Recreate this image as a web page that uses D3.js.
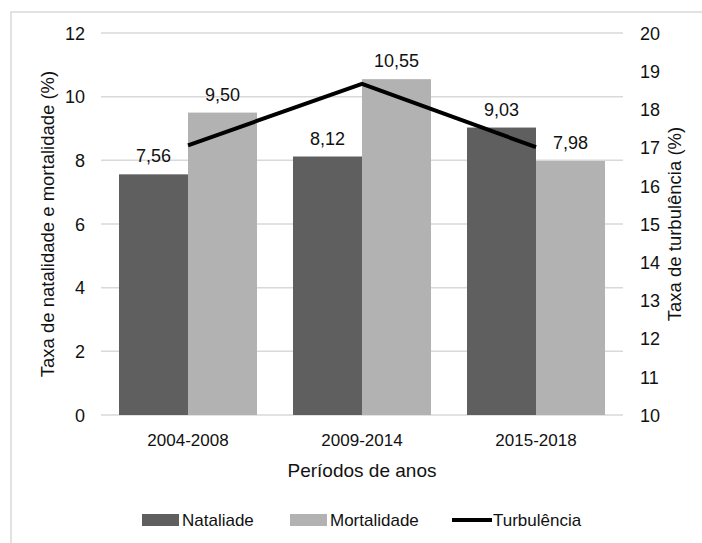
<!DOCTYPE html>
<html>
<head>
<meta charset="utf-8">
<script src="https://cdn.jsdelivr.net/npm/d3@7"></script>
<style>
	body { margin: 0; background: #fff; }
	svg text { font-family: "Liberation Sans", Arial, sans-serif; fill: #111; }
</style>
</head>
<body>
<div id="chart"></div>
<script>
var periods = ["2004-2008", "2009-2014", "2015-2018"];
var natalidade = [7.56, 8.12, 9.03];
var mortalidade = [9.50, 10.55, 7.98];
var turbulencia = [17.06, 18.67, 17.01];
var leftTicks = [0, 2, 4, 6, 8, 10, 12];
var rightTicks = [10, 11, 12, 13, 14, 15, 16, 17, 18, 19, 20];

var W = 702, H = 543;
var plot = { left: 101, right: 623, top: 33, bottom: 415 };

var svg = d3.select("#chart")
	.append("svg")
		.attr("width", W)
		.attr("height", H);

// outer frame, runs off the right and bottom edge like the original
svg.append("rect")
	.attr("x", 11).attr("y", 12)
	.attr("width", W).attr("height", H)
	.attr("fill", "none")
	.attr("stroke", "#d9d9d9")
	.attr("stroke-width", 1.5);

var x0 = d3.scaleBand().domain(periods).range([plot.left, plot.right]).padding(0);
var x1 = d3.scaleBand().domain(["nat", "mort"]).range([18, x0.bandwidth() - 18]).padding(0);
var yL = d3.scaleLinear().domain([0, 12]).range([plot.bottom, plot.top]);
var yR = d3.scaleLinear().domain([10, 20]).range([plot.bottom, plot.top]);

// gridlines
svg.append("g")
	.selectAll("line")
	.data(leftTicks)
	.join("line")
		.attr("x1", plot.left).attr("x2", plot.right)
		.attr("y1", function(d) { return yL(d); })
		.attr("y2", function(d) { return yL(d); })
		.attr("stroke", "#d9d9d9")
		.attr("stroke-width", 1.5);

// left axis
var axL = svg.append("g")
	.attr("transform", "translate(" + (plot.left - 16) + ",0)")
	.call(d3.axisLeft(yL).tickValues(leftTicks).tickSize(0).tickPadding(0));
axL.select(".domain").remove();
axL.selectAll("text").attr("font-size", 18).attr("dy", "0.35em");

// right axis
var axR = svg.append("g")
	.attr("transform", "translate(" + (plot.right + 17) + ",0)")
	.call(d3.axisRight(yR).tickValues(rightTicks).tickSize(0).tickPadding(0));
axR.select(".domain").remove();
axR.selectAll("text").attr("font-size", 18).attr("dy", "0.35em");

var series = [
	{ key: "nat", values: natalidade, color: "#5f5f5f" },
	{ key: "mort", values: mortalidade, color: "#b2b2b2" }
];

series.forEach(function(s) {
	var g = svg.append("g");
	g.selectAll("rect")
		.data(s.values)
		.join("rect")
			.attr("x", function(d, i) { return x0(periods[i]) + x1(s.key); })
			.attr("y", function(d) { return yL(d); })
			.attr("width", x1.bandwidth())
			.attr("height", function(d) { return yL(0) - yL(d); })
			.attr("fill", s.color);
	g.selectAll("text")
		.data(s.values)
		.join("text")
			.attr("x", function(d, i) { return x0(periods[i]) + x1(s.key) + x1.bandwidth() / 2; })
			.attr("y", function(d) { return yL(d) - 12; })
			.attr("text-anchor", "middle")
			.attr("font-size", 18)
			.text(function(d) { return d.toFixed(2).replace(".", ","); });
});

// turbulence line on the right scale
var line = d3.line()
	.x(function(d, i) { return x0(periods[i]) + x0.bandwidth() / 2; })
	.y(function(d) { return yR(d); });

svg.append("path")
	.datum(turbulencia)
	.attr("d", line)
	.attr("fill", "none")
	.attr("stroke", "#000")
	.attr("stroke-width", 4);

// category labels
var axX = svg.append("g")
	.attr("transform", "translate(0," + plot.bottom + ")")
	.call(d3.axisBottom(x0).tickSize(0).tickPadding(0));
axX.select(".domain").remove();
axX.selectAll("text").attr("font-size", 17).attr("dy", 0).attr("y", 31);

// axis titles
svg.append("text")
	.attr("x", (plot.left + plot.right) / 2)
	.attr("y", 477)
	.attr("text-anchor", "middle")
	.attr("font-size", 19)
	.text("Períodos de anos");

svg.append("text")
	.attr("transform", "translate(54," + ((plot.top + plot.bottom) / 2) + ") rotate(-90)")
	.attr("text-anchor", "middle")
	.attr("font-size", 18.5)
	.text("Taxa de natalidade e mortalidade (%)");

svg.append("text")
	.attr("transform", "translate(681," + ((plot.top + plot.bottom) / 2) + ") rotate(-90)")
	.attr("text-anchor", "middle")
	.attr("font-size", 18.5)
	.text("Taxa de turbulência (%)");

// legend
var legendItems = [
	{ label: "Nataliade", type: "rect", color: "#5f5f5f", x: 142 },
	{ label: "Mortalidade", type: "rect", color: "#b2b2b2", x: 290 },
	{ label: "Turbulência", type: "line", color: "#000", x: 452 }
];
var legend = svg.append("g").attr("transform", "translate(0,520)");
legendItems.forEach(function(l) {
	if (l.type == "rect") {
		legend.append("rect")
			.attr("x", l.x).attr("y", -6)
			.attr("width", 37).attr("height", 12)
			.attr("fill", l.color);
	} else {
		legend.append("line")
			.attr("x1", l.x).attr("x2", l.x + 40)
			.attr("y1", 0).attr("y2", 0)
			.attr("stroke", l.color)
			.attr("stroke-width", 4);
	}
	legend.append("text")
		.attr("x", l.x + (l.type == "rect" ? 40 : 41))
		.attr("y", 0)
		.attr("dy", "0.35em")
		.attr("font-size", 17)
		.text(l.label);
});
</script>
</body>
</html>
